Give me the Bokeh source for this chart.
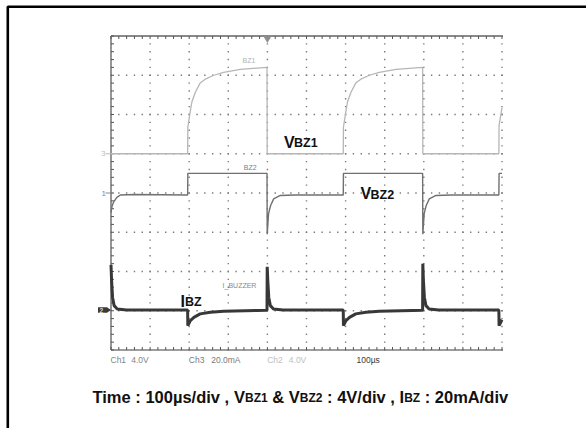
import numpy as np
from bokeh.plotting import figure
from bokeh.models import Range1d
from bokeh.core.properties import value
from bokeh.embed import file_html
from bokeh.resources import INLINE

# ---------------- data ----------------
# time in microseconds (100 us/div, 10 div)
time_bz1 = [0, 196, 196.5, 203, 207, 216, 228, 241, 263, 288, 331, 399, 399.5,
            594, 594.5, 601, 605, 614, 626, 639, 661, 686, 729, 797, 797.5,
            992, 992.5, 1000]
v_bz1 = [0, 0, 2.7, 4.4, 5.3, 6.3, 7.2, 7.6, 8.0, 8.3, 8.6, 8.8, 0,
         0, 2.7, 4.4, 5.3, 6.3, 7.2, 7.6, 8.0, 8.3, 8.6, 8.8, 0,
         0, 2.9, 4.7]

time_bz2 = [0, 3, 7, 15, 24, 60, 196, 196.5, 399, 399.5, 403, 408, 416, 433, 470,
            594, 594.5, 797, 797.5, 801, 806, 814, 831, 870, 992, 992.5, 1000]
v_bz2 = [-2.0, -1.3, -0.9, -0.45, -0.2, -0.15, -0.2, 2.0, 2.0, -4.2, -2.1, -1.3, -0.6, -0.25, -0.2,
         -0.2, 2.0, 2.0, -4.2, -2.1, -1.3, -0.6, -0.25, -0.2, -0.2, 2.0, 2.0]

time_ibz = [0, 1.5, 4, 8, 16, 40, 196, 196.5, 203, 212, 228, 254, 288, 373, 399,
            399.5, 401, 403.5, 407.5, 415.5, 440, 594, 594.5, 601, 610, 626, 652, 686, 771, 797,
            797.5, 799, 801.5, 805.5, 813.5, 838, 992, 992.5, 1000]
i_ibz = [23, 15, 6.4, 2.2, 0.5, 0, 0, -8, -5.4, -3.8, -2.0, -1.2, -0.7, -0.3, -0.2,
         22, 15, 6.4, 2.2, 0.5, 0, 0, -8, -5.4, -3.8, -2.0, -1.2, -0.7, -0.3, -0.2,
         23.6, 15, 6.4, 2.2, 0.5, 0, 0, -8, -5]

# channel scales: (ground position in divisions from bottom, units per division)
bz1_ground, bz1_per_div = 5.0, 4.0      # V
bz2_ground, bz2_per_div = 4.0, 4.0      # V
ibz_ground, ibz_per_div = 1.02, 20.0    # mA
us_per_div = 100

channel_labels = [("Ch1", "4.0V"), ("Ch3", "20.0mA"), ("Ch2", "4.0V")]
timebase_label = "100\u00b5s"

# ---------------- layout ----------------
W, H = 586, 428
L, R, T, B = 110.5, 501.5, 35.5, 349.5
NX, NY = 10, 8
pxdx = (R - L) / NX
pxdy = (B - T) / NY
T0 = -L / pxdx * us_per_div
T1 = (W - L) / pxdx * us_per_div
D0 = -(H - B) / pxdy
D1 = B / pxdy


def chan_range(ground, per_div):
    return Range1d(start=(D0 - ground) * per_div, end=(D1 - ground) * per_div)


p = figure(width=W, height=H, x_range=Range1d(0, W), y_range=Range1d(H, 0),
           output_backend="svg", toolbar_location=None,
           x_axis_location=None, y_axis_location=None,
           min_border=0, outline_line_color=None,
           background_fill_color="white", border_fill_color="white")
p.xgrid.visible = False
p.ygrid.visible = False
p.extra_x_ranges = {"t": Range1d(T0, T1)}
p.extra_y_ranges = {
    "div": Range1d(D0, D1),
    "bz1": chan_range(bz1_ground, bz1_per_div),
    "bz2": chan_range(bz2_ground, bz2_per_div),
    "ibz": chan_range(ibz_ground, ibz_per_div),
}

FONT = value("Liberation Sans")


def txt(x, y, s, size, color, bold=False, align="left", baseline="alphabetic"):
    p.text(x=[x], y=[y], text=[s], text_font=FONT, text_font_size=value(f"{size}px"),
           text_color=color, text_font_style="bold" if bold else "normal",
           text_align=align, text_baseline=baseline)


# outer border (black)
p.line(x=[7.3, 7.3, W], y=[H, 6.3, 6.3], line_color="black", line_width=2.6)

# graticule dots
t_steps = np.arange(0, 1000.1, us_per_div / 5)
d_steps = np.arange(0, 8.01, 0.2)
gx, gy = [], []
for row in range(1, NY):
    gx += list(t_steps); gy += [row] * len(t_steps)
for col in range(1, NX + 1):
    gx += [col * us_per_div] * len(d_steps); gy += list(d_steps)
p.scatter(x=gx, y=gy, marker="square", size=1.4, fill_color="#7a7a7a", line_color=None,
          x_range_name="t", y_range_name="div")

# frame edges and their minor ticks
p.line(x=[L, L], y=[T, B], line_color="#7c7c7c", line_width=1.6)
p.line(x=[L, R + 1], y=[T, T], line_color="#8a8a8a", line_width=2)
p.line(x=[L, R + 1], y=[B, B], line_color="#7c7c7c", line_width=1.6)
p.segment(x0=list(t_steps), x1=list(t_steps), y0=[T] * len(t_steps), y1=[T + 3] * len(t_steps),
          line_color="#555555", line_width=1, x_range_name="t")
p.segment(x0=list(t_steps), x1=list(t_steps), y0=[B] * len(t_steps), y1=[B - 3] * len(t_steps),
          line_color="#555555", line_width=1, x_range_name="t")
p.segment(x0=[L] * len(d_steps), x1=[L + 3] * len(d_steps), y0=list(d_steps), y1=list(d_steps),
          line_color="#555555", line_width=1, y_range_name="div")

# trigger marker
p.scatter(x=[400], y=[T + 2.5], marker="inverted_triangle", size=8, fill_color="#8e8e8e",
          line_color=None, x_range_name="t")

# traces
p.line(x=time_bz1, y=v_bz1, line_color="#b6b6b6", line_width=1.3,
       x_range_name="t", y_range_name="bz1")
p.line(x=time_bz2, y=v_bz2, line_color="#707070", line_width=1.4,
       x_range_name="t", y_range_name="bz2")
p.line(x=time_ibz, y=i_ibz, line_color="#383838", line_width=3,
       x_range_name="t", y_range_name="ibz")

# ground markers
y3 = B - bz1_ground * pxdy
y1 = B - bz2_ground * pxdy
y2 = B - ibz_ground * pxdy
txt(100.5, y3, "3", 8, "#bdbdbd", baseline="middle")
p.line(x=[105, 113], y=[y3, y3], line_color="#bdbdbd", line_width=1)
txt(101, y1, "1", 8, "#8a8a8a", baseline="middle")
p.line(x=[105, 113], y=[y1, y1], line_color="#8a8a8a", line_width=1)
p.quad(left=[97.5], right=[106.5], top=[y2 - 2.8], bottom=[y2 + 2.8], fill_color="#3a3a3a", line_color=None)
p.patch(x=[106.5, 110.5, 106.5], y=[y2 - 2.8, y2, y2 + 2.8], fill_color="#3a3a3a", line_color=None)
txt(99, y2 + 0.3, "2", 6.5, "#d8d8d8", bold=True, baseline="middle")

# small trace names
txt(248.5, 60.2, "BZ1", 7, "#b2b2b2", align="center", baseline="middle")
txt(249.7, 166.8, "BZ2", 7, "#7e7e7e", align="center", baseline="middle")
txt(239.0, 284.5, "I_BUZZER", 7, "#888888", align="center", baseline="middle")

# bold signal labels
txt(283.5, 141.7, "V", 16, "#111111", bold=True)
txt(293.5, 142.8, "BZ1", 12.5, "#111111", bold=True)
txt(360.0, 193.3, "V", 16, "#111111", bold=True)
txt(370.0, 194.4, "BZ2", 12.5, "#111111", bold=True)
txt(180.0, 300.7, "I", 16, "#111111", bold=True)
txt(184.5, 301.8, "BZ", 12.5, "#111111", bold=True)

# channel settings under the screen
yb = 359.3
txt(110.0, yb, channel_labels[0][0], 8.5, "#858585")
txt(130.7, yb, channel_labels[0][1], 8.5, "#858585")
txt(188.3, yb, channel_labels[1][0], 8.5, "#7a7a7a")
txt(210.7, yb, channel_labels[1][1], 8.5, "#7a7a7a")
txt(266.7, yb, channel_labels[2][0], 8.5, "#c0c0c0")
txt(288.3, yb, channel_labels[2][1], 8.5, "#c0c0c0")
txt(356.0, yb, timebase_label, 8.5, "#3a3a3a")

# caption with subscripts, laid out piece by piece
AW = {'T': 611, 'i': 278, 'm': 889, 'e': 556, ' ': 278, ':': 333, '1': 556, '0': 556,
      '\u00b5': 576, 's': 556, '/': 278, 'd': 611, 'v': 556, ',': 278, 'V': 667,
      'B': 722, 'Z': 611, '&': 722, '2': 556, '4': 556, 'I': 278, 'A': 722}
cap_pieces = [("Time : 100\u00b5s/div , ", False), ("V", False), ("BZ1", True), (" & ", False),
              ("V", False), ("BZ2", True), (" : 4V/div , ", False), ("I", False), ("BZ", True),
              (" : 20mA/div", False)]
FS, SS = 16.5, 12
cx, cy = 92.0, 396.0
for s, sub in cap_pieces:
    size = SS if sub else FS
    lead = len(s) - len(s.lstrip(" "))
    xs = cx + lead * AW[" "] * size / 1000.0
    txt(xs, cy + (1.5 if sub else 0), s.strip(), size, "#111111", bold=True)
    cx += sum(AW.get(ch, 556) for ch in s) * size / 1000.0

open("out.html", "w", encoding="utf-8").write(file_html(p, INLINE))
